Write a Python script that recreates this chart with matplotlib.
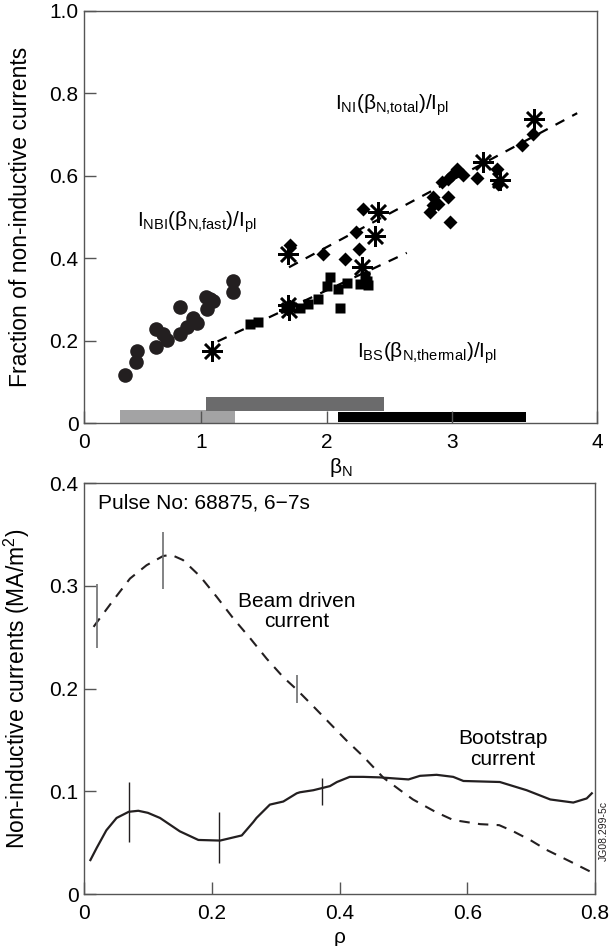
import matplotlib
matplotlib.use("Agg")
import matplotlib.pyplot as plt

plt.rcParams["font.family"] = ["Liberation Sans", "DejaVu Sans"]
plt.rcParams["axes.linewidth"] = 1.0

# ---- top panel: fraction of non-inductive current vs beta_N ----
nbi_beta = [0.39, 0.476, 0.484, 0.638, 0.638, 0.697, 0.729, 0.83, 0.83, 0.883,
            0.936, 0.963, 1.037, 1.043, 1.07, 1.096, 1.25, 1.25]
nbi_frac = [0.117, 0.147, 0.175, 0.185, 0.228, 0.216, 0.201, 0.217, 0.282, 0.232,
            0.256, 0.242, 0.305, 0.277, 0.301, 0.297, 0.317, 0.344]

bs_beta = [1.39, 1.45, 1.68, 1.71, 1.788, 1.854, 1.934, 2.0, 2.027, 2.09,
           2.107, 2.16, 2.267, 2.32, 2.33, 2.31]
bs_frac = [0.24, 0.246, 0.28, 0.283, 0.28, 0.289, 0.301, 0.333, 0.354, 0.325,
           0.279, 0.341, 0.337, 0.345, 0.335, 0.357]

tot_beta = [1.708, 1.974, 2.15, 2.26, 2.235, 2.293, 2.825, 2.85, 2.85, 2.89,
            2.918, 2.97, 2.97, 2.985, 2.998, 3.038, 3.09, 3.197, 3.357, 3.37,
            3.556, 3.65]
tot_frac = [0.432, 0.411, 0.397, 0.423, 0.463, 0.52, 0.512, 0.528, 0.548, 0.532,
            0.585, 0.593, 0.548, 0.487, 0.601, 0.617, 0.601, 0.595, 0.617, 0.581,
            0.674, 0.702]

star_beta = [1.083, 1.69, 1.69, 1.70, 2.28, 2.386, 2.413, 3.25, 3.384, 3.655]
star_frac = [0.175, 0.41, 0.287, 0.275, 0.378, 0.453, 0.512, 0.633, 0.589, 0.739]

bs_fit_beta = [1.13, 2.64]
bs_fit_frac = [0.198, 0.413]
tot_fit_beta = [1.70, 4.0]
tot_fit_frac = [0.378, 0.752]

# beta_N ranges covered by each data set
range_lo = [0.35, 1.04, 2.09]
range_hi = [1.27, 2.46, 3.59]
range_bottom = [0.0, 0.028, 0.003]
range_top = [0.032, 0.062, 0.027]
range_colors = ["#a3a3a4", "#6b6b6c", "#000000"]

top_xticks = [0.064, 1, 2, 3, 4.158]
top_xticklabels = ["0", "1", "2", "3", "4"]
top_yticks = [0, 0.2, 0.4, 0.6, 0.8, 1.0]
top_yticklabels = ["0", "0.2", "0.4", "0.6", "0.8", "1.0"]

# ---- bottom panel: current density profiles ----
rho_beam = [0.015, 0.022, 0.046, 0.072, 0.098, 0.124, 0.137, 0.155, 0.182, 0.208,
            0.234, 0.26, 0.286, 0.312, 0.333, 0.36, 0.385, 0.41, 0.437, 0.469,
            0.495, 0.515, 0.55, 0.578, 0.62, 0.65, 0.672, 0.70, 0.724, 0.76, 0.792]
j_beam = [0.26, 0.266, 0.286, 0.307, 0.32, 0.329, 0.33, 0.325, 0.309, 0.289,
          0.268, 0.249, 0.229, 0.211, 0.199, 0.182, 0.166, 0.15, 0.134, 0.113,
          0.101, 0.092, 0.08, 0.072, 0.068, 0.067, 0.061, 0.052, 0.043, 0.032, 0.022]

rho_boot = [0.01, 0.02, 0.035, 0.051, 0.07, 0.085, 0.10, 0.119, 0.15, 0.179,
            0.213, 0.247, 0.265, 0.27, 0.291, 0.312, 0.333, 0.338, 0.359, 0.385,
            0.396, 0.416, 0.437, 0.463, 0.508, 0.526, 0.552, 0.578, 0.594, 0.651,
            0.693, 0.73, 0.766, 0.787, 0.795]
j_boot = [0.033, 0.045, 0.062, 0.074, 0.08, 0.081, 0.079, 0.074, 0.061, 0.0526,
          0.052, 0.057, 0.070, 0.074, 0.087, 0.09, 0.098, 0.099, 0.101, 0.105,
          0.109, 0.114, 0.114, 0.1135, 0.1115, 0.115, 0.116, 0.114, 0.110, 0.109,
          0.101, 0.092, 0.089, 0.093, 0.098]

beam_err_rho = [0.021, 0.124, 0.333]
beam_err_lo = [0.239, 0.297, 0.186]
beam_err_hi = [0.302, 0.352, 0.213]
boot_err_rho = [0.07, 0.212, 0.372]
boot_err_lo = [0.051, 0.03, 0.087]
boot_err_hi = [0.109, 0.08, 0.1125]

bot_xticks = [0, 0.2, 0.4, 0.6, 0.8]
bot_xticklabels = ["0", "0.2", "0.4", "0.6", "0.8"]
bot_yticks = [0, 0.1, 0.2, 0.3, 0.4]
bot_yticklabels = ["0", "0.1", "0.2", "0.3", "0.4"]

FS = 15
FS_YLAB = 16.5
spine_col = "#555555"

fig = plt.figure(figsize=(6.12, 9.46), dpi=100)

def style_axes(ax):
    for s in ax.spines.values():
        s.set_color(spine_col)
        s.set_linewidth(1.0)
    ax.tick_params(direction="in", length=8.5, width=1.0, color=spine_col,
                   labelsize=FS, top=False, right=False, pad=4)

# top panel
ax1 = fig.add_axes([84 / 612, 1 - 423 / 946, 513 / 612, 412 / 946])
for lo, hi, b, t, c in zip(range_lo, range_hi, range_bottom, range_top, range_colors):
    ax1.barh(b, hi - lo, left=lo, height=t - b, align="edge", color=c,
             edgecolor="none", zorder=1)

ax1.plot(bs_fit_beta, bs_fit_frac, color="black", lw=1.6, dashes=(4.5, 4), zorder=2)
ax1.plot(tot_fit_beta, tot_fit_frac, color="black", lw=1.6, dashes=(4.5, 4), zorder=2)

ax1.plot(nbi_beta, nbi_frac, "o", ms=10.5, color="#231f20", mec="none", zorder=3)
ax1.plot(bs_beta, bs_frac, "s", ms=6.5, color="black", mec="none", zorder=3)
ax1.plot(tot_beta, tot_frac, "D", ms=7.2, color="black", mec="none", zorder=3)
ax1.plot(star_beta, star_frac, marker=(8, 2, 0), ls="none", ms=15, mew=1.8,
         color="black", zorder=4)

ax1.set_xlim(0.064, 4.158)
ax1.set_ylim(0, 1.0)
ax1.set_xticks(top_xticks)
ax1.set_xticklabels(top_xticklabels)
ax1.set_yticks(top_yticks)
ax1.set_yticklabels(top_yticklabels)
style_axes(ax1)
ax1.tick_params(axis="x", pad=7)
ax1.set_xlabel(r"$\mathregular{β_N}$", fontsize=FS)
ax1.xaxis.set_label_coords(0.5, -0.08)
ax1.set_ylabel("Fraction of non-inductive currents", fontsize=FS_YLAB)
ax1.yaxis.set_label_coords(-0.101, 0.5)

ax1.text(2.07, 0.772, r"$\mathregular{I_{NI}(β_{N{,}total})/I_{pl}}$",
         fontsize=FS, ha="left", va="center")
ax1.text(0.487, 0.487, r"$\mathregular{I_{NBI}(β_{N{,}fast})/I_{pl}}$",
         fontsize=FS, ha="left", va="center")
ax1.text(2.24, 0.17, r"$\mathregular{I_{BS}(β_{N{,}thermal})/I_{pl}}$",
         fontsize=FS, ha="left", va="center")

# bottom panel
ax2 = fig.add_axes([84 / 612, 1 - 894 / 946, 511 / 612, 411 / 946])
ax2.plot(rho_beam, j_beam, color="#231f20", lw=1.5, dashes=(5, 4))
ax2.plot(rho_boot, j_boot, color="#231f20", lw=1.6)
ax2.vlines(beam_err_rho, beam_err_lo, beam_err_hi, color="#6d6e70", lw=1.2)
ax2.vlines(boot_err_rho, boot_err_lo, boot_err_hi, color="#231f20", lw=1.0)

ax2.set_xlim(0, 0.8)
ax2.set_ylim(0, 0.4)
ax2.set_xticks(bot_xticks)
ax2.set_xticklabels(bot_xticklabels)
ax2.set_yticks(bot_yticks)
ax2.set_yticklabels(bot_yticklabels)
style_axes(ax2)
ax2.tick_params(axis="x", pad=7)
ax2.set_xlabel("ρ", fontsize=FS)
ax2.set_ylabel(r"Non-inductive currents $\mathregular{(MA/m^2)}$", fontsize=FS_YLAB)
ax2.yaxis.set_label_coords(-0.101, 0.5)

ax2.text(0.027, 0.951, "Pulse No: 68875, 6\u22127s", transform=ax2.transAxes,
         fontsize=FS, ha="left", va="center")
ax2.text(0.333, 0.275, "Beam driven\ncurrent", fontsize=FS, ha="center",
         va="center", linespacing=1.1)
ax2.text(0.656, 0.141, "Bootstrap\ncurrent", fontsize=FS, ha="center",
         va="center", linespacing=1.1)

fig.text(604 / 612, 1 - 831 / 946, "JG08.299-5c", rotation=90, fontsize=7.5,
         ha="center", va="center", color="#231f20")

fig.savefig("out.png", dpi=100)
